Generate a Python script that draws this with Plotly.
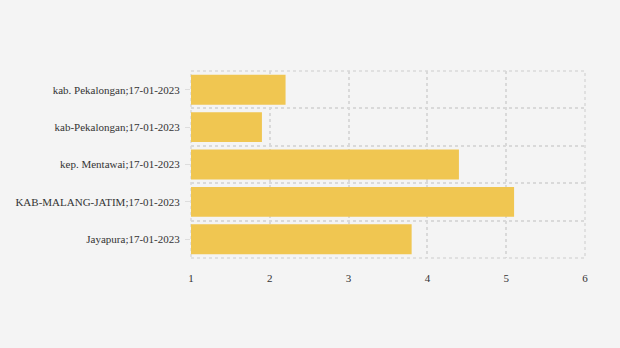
import plotly.graph_objects as go

categories = [
    "kab. Pekalongan;17-01-2023",
    "kab-Pekalongan;17-01-2023",
    "kep. Mentawai;17-01-2023",
    "KAB-MALANG-JATIM;17-01-2023",
    "Jayapura;17-01-2023",
]
values = [2.2, 1.9, 4.4, 5.1, 3.8]
x_ticks = [1, 2, 3, 4, 5, 6]

positions = list(range(len(categories)))
boundaries = [p - 0.5 for p in positions] + [positions[-1] + 0.5]

fig = go.Figure(
    go.Bar(
        x=values,
        y=positions,
        orientation="h",
        marker=dict(color="#F0C651", line=dict(width=0)),
        width=0.8,
        hoverinfo="x+y",
    )
)

font = dict(family="Liberation Serif, Times New Roman, serif", size=11, color="#333333")
grid = dict(color="#d9d9d9", width=1.5, dash="dot")

# dotted frame around the plot area (edge gridlines that plotly omits)
fig.add_shape(
    type="rect", xref="paper", yref="paper", x0=0, x1=1, y0=0, y1=1,
    line=dict(color=grid["color"], width=grid["width"], dash=grid["dash"]),
    fillcolor="rgba(0,0,0,0)", layer="below",
)

fig.update_layout(
    width=620,
    height=348,
    margin=dict(l=191, r=35, t=71, b=90),
    paper_bgcolor="#F4F4F4",
    plot_bgcolor="#F4F4F4",
    font=font,
    showlegend=False,
    xaxis=dict(
        range=[1, 6],
        tickvals=x_ticks,
        ticktext=[str(v) for v in x_ticks],
        showgrid=True,
        gridcolor=grid["color"],
        gridwidth=grid["width"],
        griddash=grid["dash"],
        zeroline=False,
        showline=False,
        ticks="outside",
        ticklen=10,
        tickcolor="#F4F4F4",
        tickfont=font,
    ),
    yaxis=dict(
        range=[len(categories) - 0.5, -0.5],
        tickvals=positions,
        ticktext=categories,
        showgrid=False,
        zeroline=False,
        showline=False,
        ticks="outside",
        ticklen=5,
        tickcolor="#dddddd",
        tickwidth=1,
        tickfont=font,
        ticklabelstandoff=3,
        minor=dict(
            tickvals=boundaries,
            showgrid=True,
            gridcolor=grid["color"],
            gridwidth=grid["width"],
            griddash=grid["dash"],
            ticks="",
        ),
    ),
)

fig.write_html("out.html")
